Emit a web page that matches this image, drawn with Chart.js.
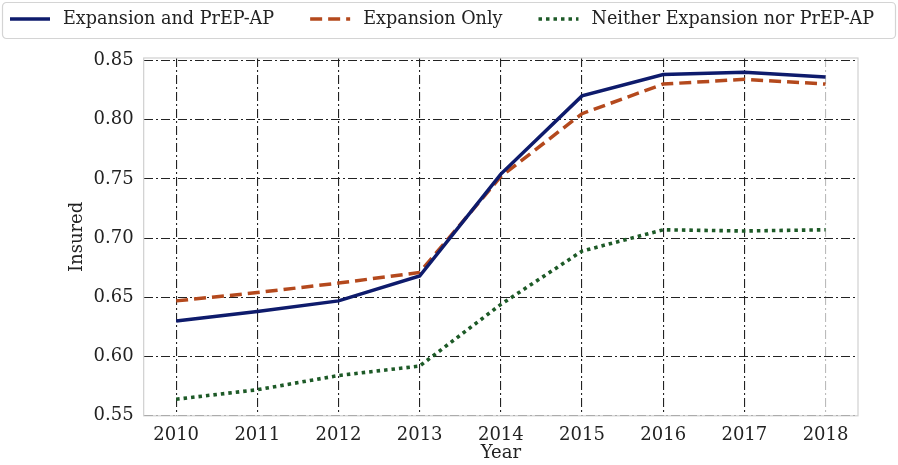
<!DOCTYPE html>
<html>
<head>
<meta charset="utf-8">
<script src="https://cdn.jsdelivr.net/npm/chart.js@4.4.0/dist/chart.umd.min.js"></script>
<style>
  body { margin: 0; background: #fff; }
</style>
</head>
<body>
<canvas id="myChart" width="898" height="465"></canvas>
<script>
//data
const years = [2010, 2011, 2012, 2013, 2014, 2015, 2016, 2017, 2018];
const expansionPrep = [0.630, 0.638, 0.647, 0.668, 0.754, 0.820, 0.838, 0.840, 0.836];
const expansionOnly = [0.647, 0.654, 0.662, 0.671, 0.752, 0.805, 0.830, 0.834, 0.830];
const neither = [0.564, 0.572, 0.584, 0.592, 0.644, 0.689, 0.707, 0.706, 0.707];
const yTicks = [0.55, 0.60, 0.65, 0.70, 0.75, 0.80, 0.85];

function toPoints(values) {
  return values.map((v, i) => ({ x: years[i], y: v }));
}

//frame round the plot area
const framePlugin = {
  id: "frames",
  beforeDatasetsDraw(chart) {
    const { ctx, chartArea } = chart;
    ctx.save();
    ctx.strokeStyle = "#d0d0d0";
    ctx.lineWidth = 1.2;
    ctx.strokeRect(chartArea.left, chartArea.top, chartArea.right - chartArea.left, chartArea.bottom - chartArea.top);
    ctx.restore();
  }
};

//legend in a box across the top, built from the datasets
const boxLegend = {
  id: "boxLegend",
  afterDraw(chart) {
    const ctx = chart.ctx;
    ctx.save();
    ctx.strokeStyle = "#d4d4d4";
    ctx.lineWidth = 1.2;
    ctx.beginPath();
    ctx.roundRect(2.5, 2.5, 893, 36, 4);
    ctx.stroke();

    ctx.font = "17.6px 'DejaVu Serif'";
    ctx.textBaseline = "middle";
    ctx.fillStyle = "#222";
    let x = 10;
    const y = 19;
    for (let ds of chart.data.datasets) {
      ctx.strokeStyle = ds.borderColor;
      ctx.lineWidth = ds.borderWidth;
      ctx.setLineDash(ds.borderDash || []);
      ctx.beginPath();
      ctx.moveTo(x, y);
      ctx.lineTo(x + 40, y);
      ctx.stroke();
      ctx.setLineDash([]);
      x += 53;
      ctx.fillText(ds.label, x, y);
      x += ctx.measureText(ds.label).width + 36;
    }
    ctx.restore();
  }
};

const gridDash = [9, 3, 2, 3];
const tickFont = { family: "DejaVu Serif", size: 18 };

new Chart(document.getElementById("myChart"), {
  type: "line",
  data: {
    datasets: [
      {
        label: "Expansion and PrEP-AP",
        data: toPoints(expansionPrep),
        borderColor: "#0e1b6c",
        backgroundColor: "#0e1b6c",
        borderWidth: 3.5
      },
      {
        label: "Expansion Only",
        data: toPoints(expansionOnly),
        borderColor: "#b4491d",
        backgroundColor: "#b4491d",
        borderWidth: 3.5,
        borderDash: [12, 6]
      },
      {
        label: "Neither Expansion nor PrEP-AP",
        data: toPoints(neither),
        borderColor: "#1d5a27",
        backgroundColor: "#1d5a27",
        borderWidth: 3.6,
        borderDash: [3.5, 4]
      }
    ]
  },
  options: {
    responsive: false,
    animation: false,
    elements: { point: { radius: 0 }, line: { tension: 0 } },
    layout: { padding: { left: 67, right: 40, top: 58, bottom: 0 } },
    plugins: {
      tooltip: { enabled: false },
      legend: { display: false }
    },
    scales: {
      x: {
        type: "linear",
        min: 2009.6,
        max: 2018.4,
        afterBuildTicks: axis => {
          axis.ticks = years.map(v => ({ value: v }));
        },
        ticks: {
          padding: 9,
          color: "#222",
          font: tickFont,
          callback: v => String(v)
        },
        grid: {
          drawTicks: false,
          color: ctx => (ctx.tick && ctx.tick.value === 2018 ? "#bbbbbb" : "#222"),
          lineWidth: 1.1
        },
        border: { display: false, dash: gridDash },
        title: {
          display: true,
          text: "Year",
          color: "#222",
          font: { family: "DejaVu Serif", size: 18 },
          padding: { top: -13, bottom: 1 }
        }
      },
      y: {
        min: 0.55,
        max: 0.852,
        afterBuildTicks: axis => {
          axis.ticks = yTicks.map(v => ({ value: v }));
        },
        ticks: {
          padding: 10,
          color: "#222",
          font: tickFont,
          callback: v => v.toFixed(2)
        },
        grid: {
          drawTicks: false,
          color: "#222",
          lineWidth: 1.1
        },
        border: { display: false, dash: gridDash },
        title: {
          display: true,
          text: "Insured",
          color: "#222",
          font: { family: "DejaVu Serif", size: 18 },
          padding: { top: 0, bottom: -5 }
        }
      }
    }
  },
  plugins: [framePlugin, boxLegend]
});
</script>
</body>
</html>
